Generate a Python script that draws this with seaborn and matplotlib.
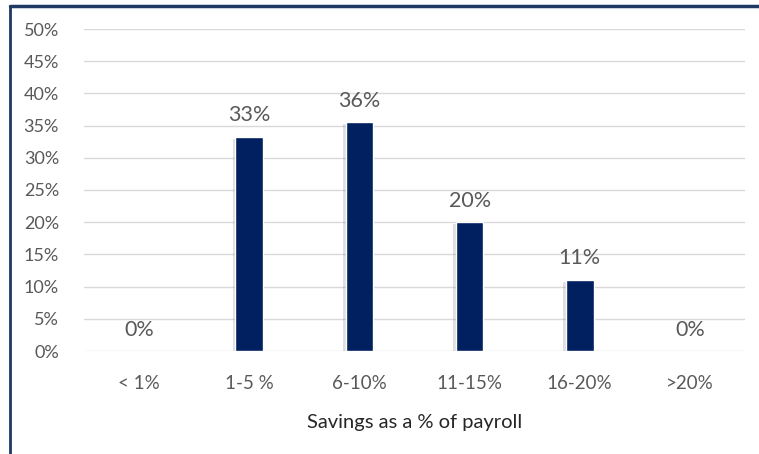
import matplotlib
matplotlib.use("Agg")
import matplotlib.pyplot as plt
import matplotlib.patheffects as pe
from matplotlib.lines import Line2D
import seaborn as sns
import pandas as pd

categories = ["< 1%", "1-5 %", "6-10%", "11-15%", "16-20%", ">20%"]
shares = [0.0, 0.333, 0.356, 0.200, 0.111, 0.0]
y_ticks = [0.0, 0.05, 0.10, 0.15, 0.20, 0.25, 0.30, 0.35, 0.40, 0.45, 0.50]
x_title = "Savings as a % of payroll"

sns.set_theme(style="white")
plt.rcParams["font.family"] = ["Lato", "DejaVu Sans"]
text_color = "#595959"

df = pd.DataFrame({"cat": categories, "share": shares})

fig = plt.figure(figsize=(7.59, 4.54), dpi=100)
ax = fig.add_axes([84 / 759, 1 - 351 / 454, (745 - 84) / 759, (351 - 29) / 454])

sns.barplot(data=df, x="cat", y="share", color="#002060", width=0.25,
            saturation=1, ax=ax, zorder=3)
for p in ax.patches:
    p.set_path_effects([pe.SimplePatchShadow(offset=(-2, -1.5), alpha=0.25, shadow_rgbFace="#808080"),
                        pe.Normal()])

for i, v in enumerate(shares):
    ax.annotate(f"{v:.0%}", (i, v), xytext=(0, 8), textcoords="offset points",
                ha="center", va="bottom", fontsize=15.5, color=text_color)

ax.set_ylim(0, 0.5)
ax.set_yticks(y_ticks)
ax.set_yticklabels([f"{t:.0%}" for t in y_ticks])
ax.set_xlim(-0.5, len(categories) - 0.5)
ax.yaxis.grid(True, color="#d9d9d9", linewidth=1, zorder=0)
ax.set_axisbelow(True)
for s in ax.spines.values():
    s.set_visible(False)
ax.tick_params(axis="y", length=0, pad=18, labelsize=13, labelcolor=text_color)
ax.tick_params(axis="x", length=0, pad=17, labelsize=13.5, labelcolor=text_color)
ax.set_ylabel("")
ax.set_xlabel(x_title, fontsize=14.5, color="#262626", labelpad=16)

fig.add_artist(Line2D([10 / 759, 10 / 759], [0, 1 - 6 / 454], color="#1f3864", linewidth=2))
fig.add_artist(Line2D([10 / 759, 1], [1 - 6 / 454, 1 - 6 / 454], color="#1f3864", linewidth=2.5))

fig.savefig("out.png", dpi=100)
